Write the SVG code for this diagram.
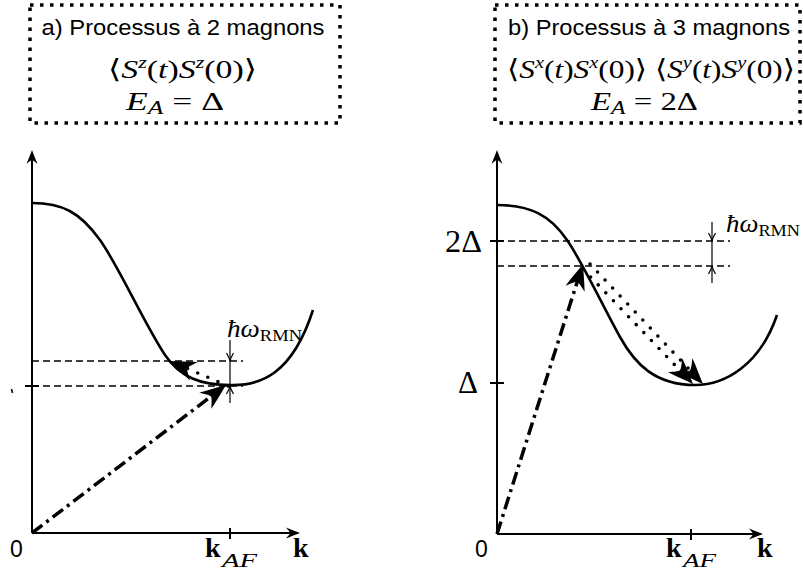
<svg xmlns="http://www.w3.org/2000/svg" width="803" height="571" viewBox="0 0 803 571">
<style>
.box{fill:none;stroke:#000;stroke-width:3.5;stroke-dasharray:3.5 6.5}
.ax{fill:none;stroke:#000;stroke-width:2}
.curve{fill:none;stroke:#000;stroke-width:2.6}
.dash{fill:none;stroke:#000;stroke-width:1.3;stroke-dasharray:7 4}
.dd{fill:none;stroke:#000;stroke-width:3.5;stroke-dasharray:13 5 3 5}
.dot{fill:none;stroke:#000;stroke-width:3.6;stroke-linecap:round;stroke-dasharray:0 11}
.thin{fill:none;stroke:#000;stroke-width:1.2}
.sans{font-family:"Liberation Sans",Arial,sans-serif}
.m{font-family:"Liberation Serif","DejaVu Serif","DejaVu Sans",serif}
.i{font-style:italic}
.b{font-weight:bold}
</style>
<defs>
<path id="big" d="M0,0 C-8,-3 -17,-7 -26,-10 C-22,-5 -19,-2 -19,0 C-19,2 -22,5 -26,10 C-17,7 -8,3 0,0 Z" fill="#000"/>
<path id="axh" d="M0,0 C-4,-1.5 -9,-3.5 -14,-5.5 C-11,-2 -10,-1 -10,0 C-10,1 -11,2 -14,5.5 C-9,3.5 -4,1.5 0,0 Z" fill="#000"/>
<path id="sm" d="M-3.5,-8 Q-0.6,-3 0,0 Q0.6,-3 3.5,-8" fill="none" stroke="#000" stroke-width="1.2"/>
</defs>

<g id="box-a">
<rect x="30" y="5" width="310" height="118" class="box"/>
<text x="41.5" y="35" class="sans" font-size="22" textLength="283" lengthAdjust="spacingAndGlyphs">a) Processus à 2 magnons</text>
<text x="108" y="78" class="m" font-size="26" textLength="149" lengthAdjust="spacingAndGlyphs">⟨<tspan class="i">S</tspan><tspan class="i" font-size="17" dy="-10">z</tspan><tspan dy="10">(</tspan><tspan class="i">t</tspan>)<tspan class="i">S</tspan><tspan class="i" font-size="17" dy="-10">z</tspan><tspan dy="10">(0)⟩</tspan></text>
<text x="126" y="110" class="m" font-size="25" textLength="98" lengthAdjust="spacingAndGlyphs"><tspan class="i">E</tspan><tspan class="i" font-size="18" dy="4">A</tspan><tspan dy="-4"> = Δ</tspan></text>
</g>

<g id="box-b">
<rect x="495" y="5" width="305" height="118" class="box"/>
<text x="508" y="35" class="sans" font-size="22" textLength="282" lengthAdjust="spacingAndGlyphs">b) Processus à 3 magnons</text>
<text x="507" y="78" class="m" font-size="26" textLength="288" lengthAdjust="spacingAndGlyphs">⟨<tspan class="i">S</tspan><tspan class="i" font-size="17" dy="-10">x</tspan><tspan dy="10">(</tspan><tspan class="i">t</tspan>)<tspan class="i">S</tspan><tspan class="i" font-size="17" dy="-10">x</tspan><tspan dy="10">(0)⟩ ⟨</tspan><tspan class="i">S</tspan><tspan class="i" font-size="17" dy="-10">y</tspan><tspan dy="10">(</tspan><tspan class="i">t</tspan>)<tspan class="i">S</tspan><tspan class="i" font-size="17" dy="-10">y</tspan><tspan dy="10">(0)⟩</tspan></text>
<text x="591" y="110" class="m" font-size="25" textLength="107" lengthAdjust="spacingAndGlyphs"><tspan class="i">E</tspan><tspan class="i" font-size="18" dy="4">A</tspan><tspan dy="-4"> = 2Δ</tspan></text>
</g>

<g id="axes-a">
<path class="ax" d="M32,533 V158 M32,533 H292 M25,386 H39 M230,528 V539"/>
<use href="#axh" transform="translate(32,150) rotate(-90)"/>
<use href="#axh" transform="translate(300,533)"/>
<path d="M11.5,389 L12.5,393" stroke="#000" stroke-width="1.5"/>
<text x="10" y="557" class="sans" font-size="23">0</text>
<text x="205" y="557" class="m b" font-size="28">k</text>
<text x="222" y="567" class="m i" font-size="19" textLength="35" lengthAdjust="spacingAndGlyphs">AF</text>
<text x="293" y="557" class="m b" font-size="28">k</text>
</g>

<g id="axes-b">
<path class="ax" d="M497,534 V158 M497,534 H755 M490,241 H504 M490,383 H504 M691,529 V540"/>
<use href="#axh" transform="translate(497,150) rotate(-90)"/>
<use href="#axh" transform="translate(763,534)"/>
<text x="475" y="557" class="sans" font-size="23">0</text>
<text x="666" y="557" class="m b" font-size="28">k</text>
<text x="683" y="567" class="m i" font-size="19" textLength="33" lengthAdjust="spacingAndGlyphs">AF</text>
<text x="757" y="557" class="m b" font-size="28">k</text>
<text x="445" y="252" class="m" font-size="31" textLength="37" lengthAdjust="spacingAndGlyphs">2Δ</text>
<text x="458" y="393" class="m" font-size="31" textLength="20" lengthAdjust="spacingAndGlyphs">Δ</text>
</g>

<g id="curve-a">
<path class="curve" d="M32,203 C62,203 80,212 100,240 C118,265 145,325 165,355 C180,377 200,385 230,385 C260,386 292,375 313,310"/>
<path class="dash" d="M32,361 H243 M32,386 H243"/>
<line x1="230" y1="340" x2="230" y2="403" class="thin"/>
<use href="#sm" transform="translate(230,361)"/>
<use href="#sm" transform="translate(230,386) rotate(180)"/>
<text x="227" y="337" class="m" font-size="25" textLength="75" lengthAdjust="spacingAndGlyphs"><tspan class="i">ħω</tspan><tspan font-size="17" dy="4">RMN</tspan></text>
</g>

<g id="curve-b">
<path class="curve" d="M497,205 C530,205 550,215 567,240 C580,258 605,310 620,337 C635,364 655,385 695,385 C725,385 760,365 777,315"/>
<path class="dash" d="M497,241 H730 M497,266 H730"/>
<line x1="712" y1="222" x2="712" y2="283" class="thin"/>
<use href="#sm" transform="translate(712,241)"/>
<use href="#sm" transform="translate(712,266) rotate(180)"/>
<text x="726" y="232" class="m" font-size="25" textLength="74" lengthAdjust="spacingAndGlyphs"><tspan class="i">ħω</tspan><tspan font-size="17" dy="4">RMN</tspan></text>
</g>

<g id="connectors">
<path class="dd" d="M32,533 L212.5,395.3"/>
<use href="#big" transform="translate(226,385) rotate(-37.3)"/>
<path class="dot" d="M228,386 L186.5,368.1"/>
<use href="#big" transform="translate(170,361) rotate(203.3)"/>
<path class="dd" d="M497,534 L577.5,281"/>
<use href="#big" transform="translate(583,264) rotate(-72.3)"/>
<path class="dot" d="M590,264 L691.3,371.6"/>
<use href="#big" transform="translate(703,384) rotate(46.7)"/>
<path class="dot" d="M583,269 L681.2,371.7"/>
<use href="#big" transform="translate(693,384) rotate(46.3)"/>
</g>
</svg>
